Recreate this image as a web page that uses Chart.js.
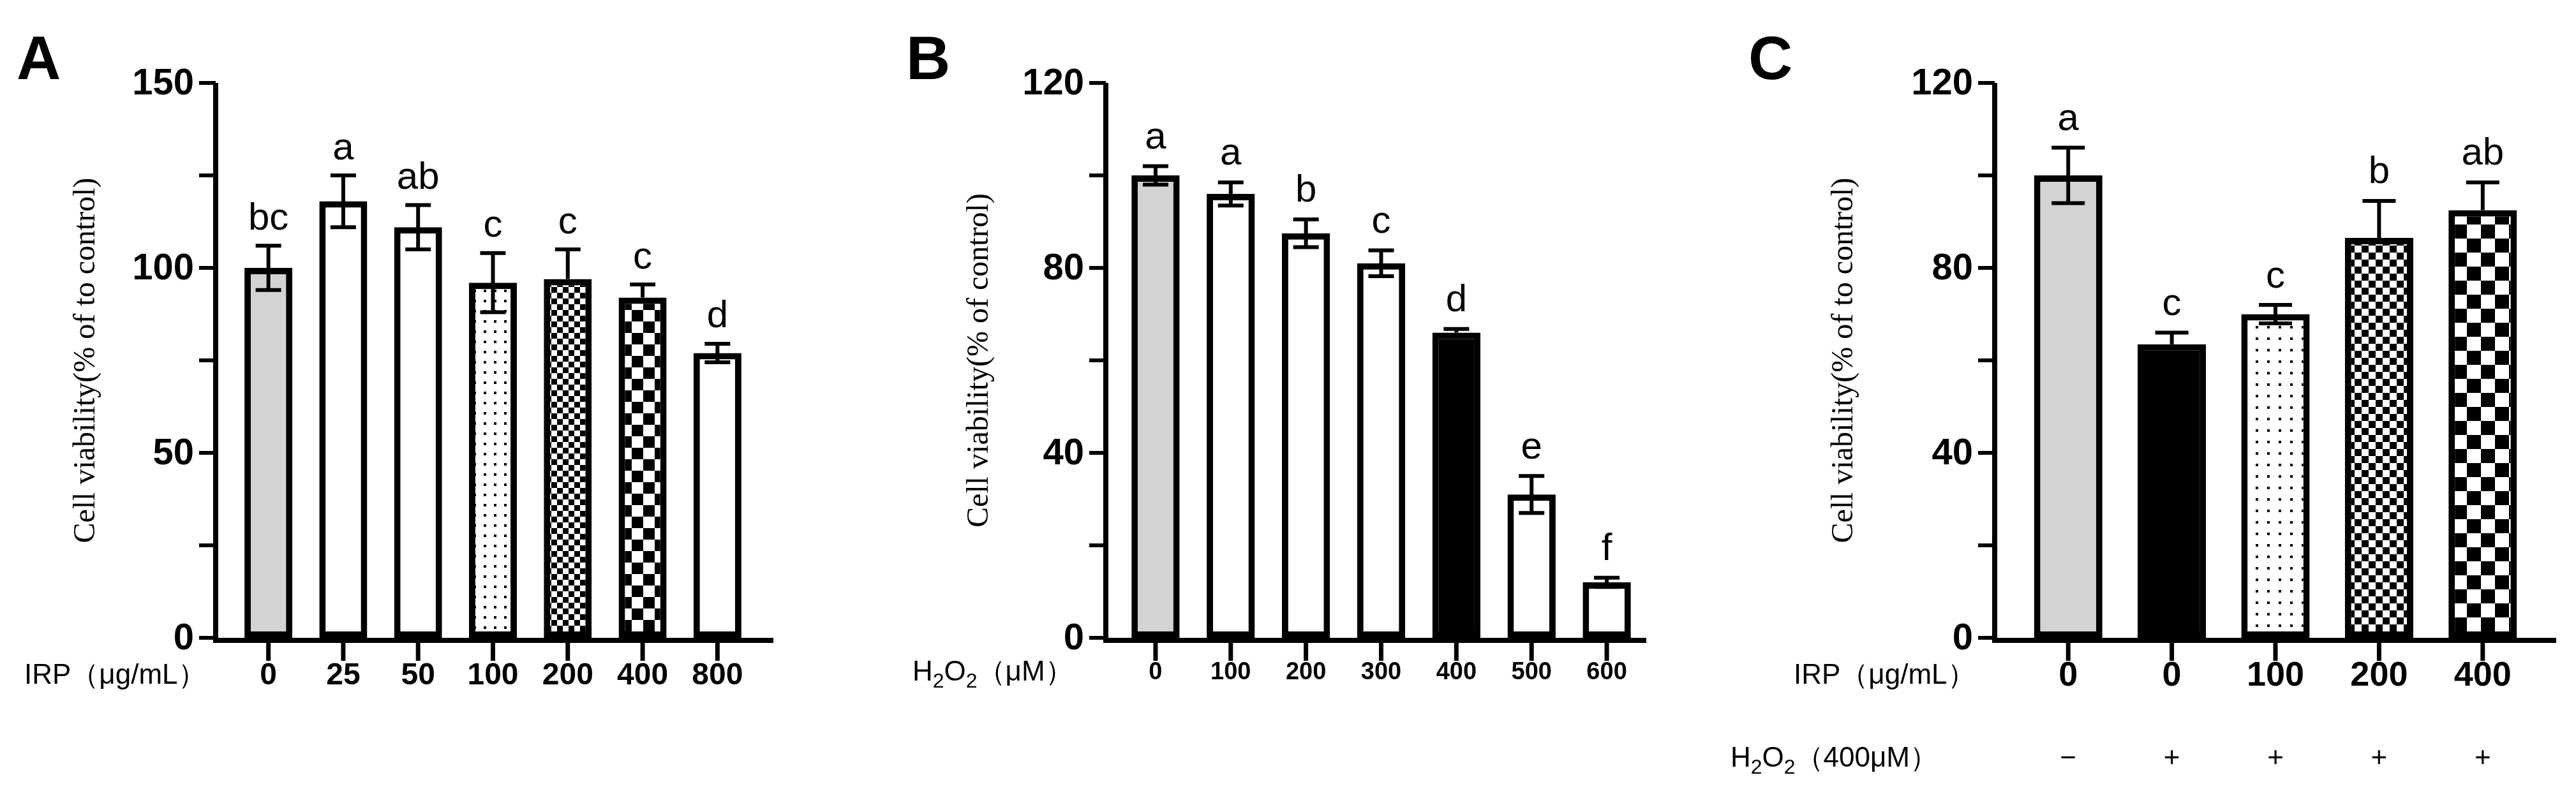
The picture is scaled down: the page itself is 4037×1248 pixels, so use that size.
<!DOCTYPE html>
<html><head><meta charset="utf-8">
<script src="https://cdn.jsdelivr.net/npm/chart.js@4/dist/chart.umd.min.js"></script>
<style>
html,body{margin:0;padding:0;background:#fff;width:4037px;height:1248px;overflow:hidden}
canvas{position:absolute;top:0}
</style></head><body>
<div style="position:absolute;left:0;top:0;width:1300px;height:1248px"><canvas id="cA"></canvas></div>
<div style="position:absolute;left:1380px;top:0;width:1320px;height:1248px"><canvas id="cB"></canvas></div>
<div style="position:absolute;left:2700px;top:0;width:1337px;height:1248px"><canvas id="cC"></canvas></div>
<script>
// Panel A
const catsA = ['0','25','50','100','200','400','800'];
const valsA = [100,118,111,96,97,92,77];
const errA  = [6,7,6,8,8,3.5,2.5];
const letA  = ['bc','a','ab','c','c','c','d'];
const fillA = ['gray','white','white','dots','fine','coarse','white'];
const ticksA = [0,50,100,150];
// Panel B
const catsB = ['0','100','200','300','400','500','600'];
const valsB = [100,96,87.5,81,66,31,12];
const errB  = [2,2.5,3,2.8,0.8,4,1];
const letB  = ['a','a','b','c','d','e','f'];
const fillB = ['gray','white','white','white','black','white','white'];
const ticksB = [0,40,80,120];
// Panel C
const catsC = ['0','0','100','200','400'];
const h2o2C = ['\u2212','+','+','+','+'];
const valsC = [100,63.5,70,86.5,92.5];
const errC  = [6,2.5,2,8,6];
const letC  = ['a','c','c','b','ab'];
const fillC = ['gray','black','dots','fine','coarse'];
const ticksC = [0,40,80,120];

function pat(kind, s){
  if(kind==='gray') return '#d3d3d3';
  if(kind==='white') return '#ffffff';
  if(kind==='black') return '#000000';
  const c=document.createElement('canvas');
  const ctx=c.getContext('2d');
  if(kind==='dots'){ c.width=c.height=s; ctx.fillStyle='#fff';ctx.fillRect(0,0,s,s);ctx.fillStyle='#000';ctx.fillRect(s/2-2,s/2-2,4,4);}
  else { c.width=c.height=2*s; ctx.fillStyle='#fff';ctx.fillRect(0,0,2*s,2*s);ctx.fillStyle='#000';ctx.fillRect(0,0,s,s);ctx.fillRect(s,s,s,s);}
  return document.createElement('canvas').getContext('2d').createPattern(c,'repeat');
}

function make(id, cfg){
  const plugin={id:'deco'+id,
    afterDatasetsDraw(chart){
      const ctx=chart.ctx, x=chart.scales.x, y=chart.scales.y, ca=chart.chartArea;
      ctx.save();
      ctx.strokeStyle='#000'; ctx.fillStyle='#000'; ctx.lineCap='butt';
      // error bars
      ctx.lineWidth=6;
      cfg.vals.forEach((v,i)=>{
        const cx=x.getPixelForValue(i), yt=y.getPixelForValue(v+cfg.err[i]), yv=y.getPixelForValue(v), yb=y.getPixelForValue(v-cfg.err[i]);
        const hw=cfg.cap/2;
        const lower=!['fine','coarse','black'].includes(cfg.fill[i]);
        ctx.beginPath(); ctx.moveTo(cx,yt); ctx.lineTo(cx,lower?yb:yv);
        ctx.moveTo(cx-hw,yt); ctx.lineTo(cx+hw,yt);
        if(lower){ctx.moveTo(cx-hw,yb); ctx.lineTo(cx+hw,yb);}
        ctx.stroke();
        ctx.font=cfg.letFont+'px Arial, "Liberation Sans"'; ctx.textAlign='center'; ctx.textBaseline='bottom';
        ctx.fillText(cfg.lets[i],cx,yt-cfg.letGap);
      });
      // axes
      const y0=y.getPixelForValue(0);
      ctx.lineWidth=8;
      ctx.beginPath(); ctx.moveTo(cfg.axisX,y.getPixelForValue(cfg.max)); ctx.lineTo(cfg.axisX,y0+4); ctx.lineTo(cfg.axisRight,y0+4); ctx.stroke();
      // y ticks
      ctx.lineWidth=6;
      for(let t=0;t<=cfg.max;t+=cfg.minor){
        const py=y.getPixelForValue(t);
        ctx.beginPath(); ctx.moveTo(cfg.axisX-26,py); ctx.lineTo(cfg.axisX,py); ctx.stroke();
      }
      ctx.font='bold '+cfg.yFont+'px Arial, "Liberation Sans"'; ctx.textAlign='right'; ctx.textBaseline='middle';
      cfg.ticks.forEach(t=>ctx.fillText(String(t),cfg.axisX-34,y.getPixelForValue(t)+2));
      // x ticks and labels
      ctx.lineWidth=7;
      ctx.font='bold '+cfg.xFont+'px Arial, "Liberation Sans"'; ctx.textAlign='center'; ctx.textBaseline='middle';
      cfg.cats.forEach((c,i)=>{
        const cx=x.getPixelForValue(i);
        ctx.beginPath(); ctx.moveTo(cx,y0+4); ctx.lineTo(cx,y0+36); ctx.stroke();
        ctx.fillText(c,cx,cfg.xRowY);
      });
      if(cfg.row2){
        ctx.font='44px Arial, "Liberation Sans"';
        cfg.row2.forEach((c,i)=>ctx.fillText(c,x.getPixelForValue(i),cfg.row2Y));
      }
      // x row titles
      ctx.textAlign='left';
      cfg.rowTitles.forEach(rt=>{
        let px=rt.x; ctx.textBaseline='middle';
        rt.parts.forEach(p=>{
          ctx.font=(p.sub?32:44)+'px Arial, "Liberation Sans"';
          ctx.fillText(p.t,px,rt.y+(p.sub?14:0));
          px+=ctx.measureText(p.t).width;
        });
      });
      // y title
      ctx.save();
      ctx.translate(cfg.titleX,(y.getPixelForValue(cfg.max)+y0)/2);
      ctx.rotate(-Math.PI/2);
      ctx.font='48px "Liberation Serif", "Times New Roman", serif'; ctx.textAlign='center'; ctx.textBaseline='middle';
      ctx.fillStyle='#000';
      ctx.fillText(cfg.ytitle,0,0);
      ctx.restore();
      // panel letter
      ctx.font='bold 96px Arial, "Liberation Sans"'; ctx.textAlign='left'; ctx.textBaseline='alphabetic';
      ctx.fillText(cfg.panel,cfg.panelX,124);
      ctx.restore();
    }};
  return new Chart(document.getElementById(id),{
    type:'bar',
    data:{labels:cfg.cats,datasets:[{data:cfg.vals,
      backgroundColor:cfg.fill.map(f=>pat(f,cfg.patS[f]||12)),
      borderColor:'#000',borderWidth:10,borderSkipped:false,
      barPercentage:cfg.bp,categoryPercentage:1}]},
    options:{responsive:true,maintainAspectRatio:false,animation:false,
      devicePixelRatio:1,
      layout:{padding:{left:cfg.padL,right:cfg.padR,top:130,bottom:248}},
      plugins:{legend:{display:false},tooltip:{enabled:false}},
      scales:{x:{display:false,offset:true},y:{display:false,min:0,max:cfg.max}}},
    plugins:[plugin]});
}

make('cA',{cats:catsA,vals:valsA,err:errA,lets:letA,fill:fillA,ticks:ticksA,max:150,minor:25,
  padL:362,padR:117,axisX:338,axisRight:1212,bp:0.64,cap:40,letFont:60,letGap:12,yFont:58,xFont:48,xRowY:1060,
  patS:{dots:16,fine:9,coarse:18},
  rowTitles:[{x:38,y:1060,parts:[{t:'IRP\uFF08\u03BCg/mL\uFF09'}]}],
  ytitle:'Cell viability(% of to control)',titleX:135,panel:'A',panelX:26});
make('cB',{cats:catsB,vals:valsB,err:errB,lets:letB,fill:fillB,ticks:ticksB,max:120,minor:20,
  padL:372,padR:123,axisX:353,axisRight:1200,bp:0.64,cap:40,letFont:60,letGap:14,yFont:58,xFont:38,xRowY:1055,
  patS:{},
  rowTitles:[{x:50,y:1055,parts:[{t:'H'},{t:'2',sub:1},{t:'O'},{t:'2',sub:1},{t:'\uFF08\u03BCM\uFF09'}]}],
  ytitle:'Cell viability(% of control)',titleX:155,panel:'B',panelX:40});
make('cC',{cats:catsC,vals:valsC,err:errC,lets:letC,fill:fillC,ticks:ticksC,max:120,minor:20,
  padL:460,padR:65,axisX:426,axisRight:1306,bp:0.66,cap:52,letFont:60,letGap:14,yFont:58,xFont:54,xRowY:1060,
  patS:{dots:18,fine:11,coarse:22},
  row2:h2o2C,row2Y:1190,
  rowTitles:[{x:111,y:1060,parts:[{t:'IRP\uFF08\u03BCg/mL\uFF09'}]},
             {x:12,y:1190,parts:[{t:'H'},{t:'2',sub:1},{t:'O'},{t:'2',sub:1},{t:'\uFF08400\u03BCM\uFF09'}]}],
  ytitle:'Cell viability(% of to control)',titleX:190,panel:'C',panelX:40});
</script></body></html>
